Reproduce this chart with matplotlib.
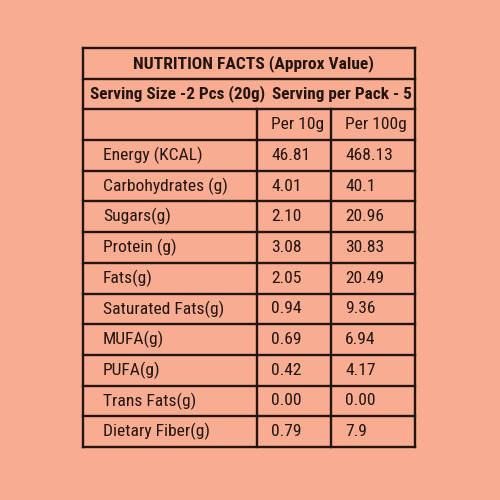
import matplotlib
matplotlib.use('Agg')
import matplotlib.pyplot as plt
from matplotlib import font_manager

# nutrition table values
title = 'NUTRITION FACTS (Approx Value)'
serving_size = 'Serving Size -2 Pcs (20g)'
serving_pack = 'Serving per Pack - 5'
col_heads = ['Per 10g', 'Per 100g']
nutrients = ['Energy (KCAL)', 'Carbohydrates (g)', 'Sugars(g)', 'Protein (g)', 'Fats(g)',
             'Saturated Fats(g)', 'MUFA(g)', 'PUFA(g)', 'Trans Fats(g)', 'Dietary Fiber(g)']
per_10g = ['46.81', '4.01', '2.10', '3.08', '2.05', '0.94', '0.69', '0.42', '0.00', '0.79']
per_100g = ['468.13', '40.1', '20.96', '30.83', '20.49', '9.36', '6.94', '4.17', '0.00', '7.9']

installed = {f.name for f in font_manager.fontManager.ttflist}
family = 'DejaVu Sans'
for name in ['Roboto Condensed', 'Liberation Sans Narrow', 'Roboto']:
    if name in installed:
        family = name
        break
plt.rcParams['font.family'] = [family, 'DejaVu Sans']

bg = '#f8ad92'
ink = '#24140f'

fig = plt.figure(figsize=(5, 5), dpi=100)
fig.patch.set_facecolor(bg)
ax = fig.add_axes([0, 0, 1, 1])
ax.set_facecolor(bg)
ax.set_xlim(0, 500)
ax.set_ylim(500, 0)
ax.axis('off')

left, right = 83, 415
top, bottom = 48, 447
col1, col2 = 257, 331
n_rows = 3 + len(nutrients)
h = (bottom - top) / n_rows
ys = [top + i * h for i in range(n_rows + 1)]

lw = 1.7
for y in ys:
    ax.plot([left, right], [y, y], color=ink, lw=lw, solid_capstyle='projecting')
ax.plot([left, left], [top, bottom], color=ink, lw=lw, solid_capstyle='projecting')
ax.plot([right, right], [top, bottom], color=ink, lw=lw, solid_capstyle='projecting')
for x in (col1, col2):
    ax.plot([x, x], [ys[2], bottom], color=ink, lw=lw)

fs = 12.6
fs_bold = 12.3
def mid(i):
    return (ys[i] + ys[i + 1]) / 2

ax.text((left + right) / 2 + 4, mid(0), title, ha='center', va='center',
        fontsize=fs, fontweight='bold', color=ink)
ax.text(90, mid(1), serving_size, ha='left', va='center',
        fontsize=fs_bold, fontweight='bold', color=ink)
ax.text(right - 3, mid(1), serving_pack, ha='right', va='center',
        fontsize=fs_bold, fontweight='bold', color=ink)
ax.text(col1 + 14, mid(2), col_heads[0], ha='left', va='center', fontsize=fs, color=ink)
ax.text(col2 + 14, mid(2), col_heads[1], ha='left', va='center', fontsize=fs, color=ink)

for i, (name, a, b) in enumerate(zip(nutrients, per_10g, per_100g)):
    y = mid(3 + i)
    ax.text(103, y, name, ha='left', va='center', fontsize=fs, color=ink)
    ax.text(col1 + 14, y, a, ha='left', va='center', fontsize=fs, color=ink)
    ax.text(col2 + 14, y, b, ha='left', va='center', fontsize=fs, color=ink)

fig.savefig('out.png', dpi=100, facecolor=bg)
